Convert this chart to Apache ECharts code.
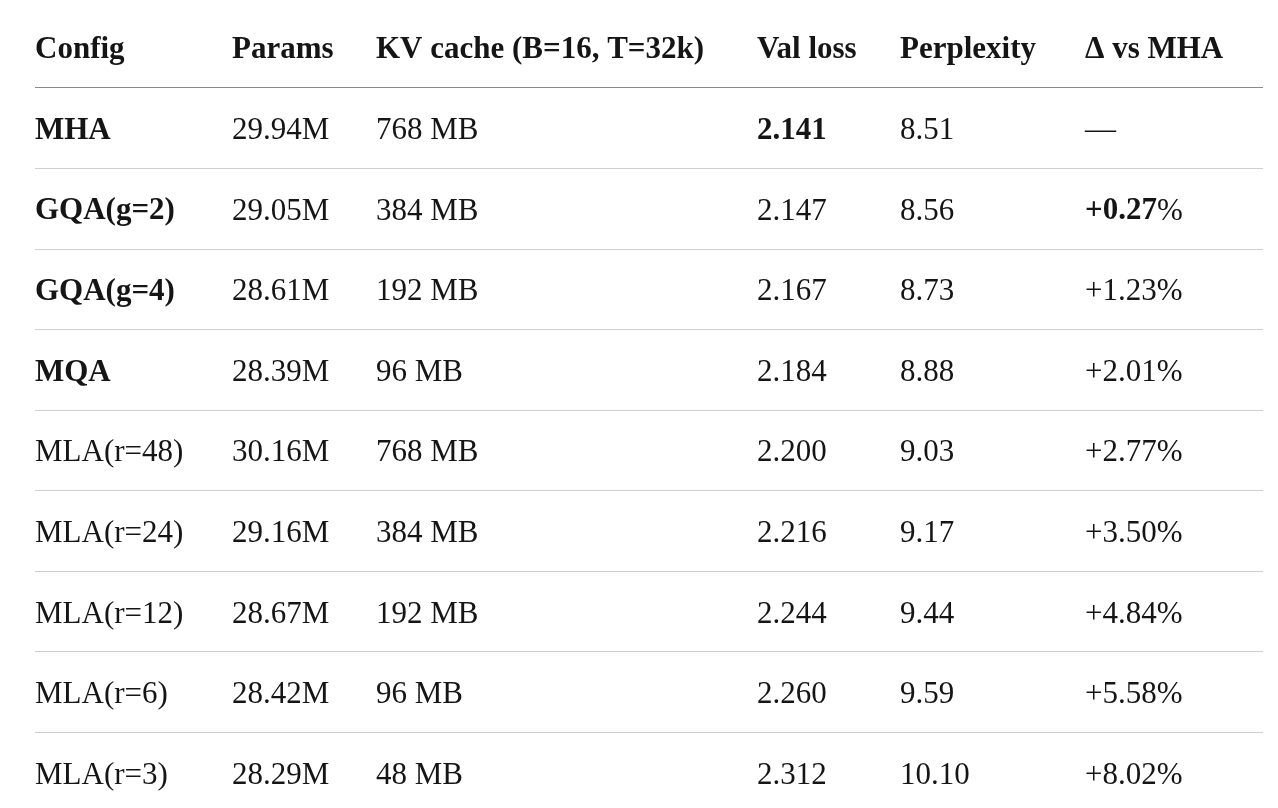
<!DOCTYPE html>
<html>
<head>
    <meta charset="utf-8">
    <title>Attention variants</title>
    <style>
        html, body { margin: 0; padding: 0; background: #fff; }
        #table { width: 1278px; height: 808px; }
    </style>
</head>
<body>
<div id="table"></div>

<script src="https://cdn.jsdelivr.net/npm/echarts@6/dist/echarts.min.js"></script>
<script>
    // table contents
    var headers = ['Config', 'Params', 'KV cache (B=16, T=32k)', 'Val loss', 'Perplexity', 'Δ vs MHA'];
    var configs = ['MHA', 'GQA(g=2)', 'GQA(g=4)', 'MQA', 'MLA(r=48)', 'MLA(r=24)', 'MLA(r=12)', 'MLA(r=6)', 'MLA(r=3)'];
    var params = ['29.94M', '29.05M', '28.61M', '28.39M', '30.16M', '29.16M', '28.67M', '28.42M', '28.29M'];
    var kvCache = ['768 MB', '384 MB', '192 MB', '96 MB', '768 MB', '384 MB', '192 MB', '96 MB', '48 MB'];
    var valLoss = [2.141, 2.147, 2.167, 2.184, 2.200, 2.216, 2.244, 2.260, 2.312];
    var perplexity = [8.51, 8.56, 8.73, 8.88, 9.03, 9.17, 9.44, 9.59, 10.10];
    var deltaVsMha = ['—', '+0.27%', '+1.23%', '+2.01%', '+2.77%', '+3.50%', '+4.84%', '+5.58%', '+8.02%'];

    // which body cells are set in bold, per column
    var boldRows = [[0, 1, 2, 3], [], [], [0], [], [1]];

    var columns = [
        configs,
        params,
        kvCache,
        valLoss.map(function (v) { return v.toFixed(3); }),
        perplexity.map(function (v) { return v.toFixed(2); }),
        deltaVsMha
    ];
    var colLeft = [35, 232, 376, 757, 900, 1085];

    var FONT = '"Liberation Serif", "DejaVu Serif", serif';
    var SIZE = 31;
    var INK = '#151515';

    // rows sit on a value axis: each row is 2 units tall, centred on an odd value,
    // rules fall on the even values. The last row is cut by the bottom edge.
    var ROW_UNITS = 2;
    var TOP = 7, H = 801;
    var Y_MAX = 19.88;
    var PX_PER_UNIT = H / Y_MAX;
    // text grids start a little lower so the glyphs sit optically centred
    var TEXT_DROP = 3;
    var nRows = configs.length + 1;

    var lineColors = ['rgba(0,0,0,0)', '#8a8a8a'];
    for (var i = 2; i <= nRows + 1; i++) lineColors.push('#cfcfcf');

    function yAxisFor(g, max, withRules) {
        return {
            gridIndex: g, type: 'value', inverse: true,
            min: 0, max: max, interval: ROW_UNITS,
            axisLine: {show: false}, axisTick: {show: false}, axisLabel: {show: false},
            splitLine: withRules
                ? {show: true, lineStyle: {color: lineColors, width: 1.2}}
                : {show: false}
        };
    }

    var grids = [{left: 35, right: 15, top: TOP, bottom: 0}];
    var xAxes = [{gridIndex: 0, type: 'value', min: 0, max: 1, show: false}];
    var yAxes = [yAxisFor(0, Y_MAX, true)];
    var series = [];

    function cellLabel(fmt, bold) {
        return {
            formatter: fmt,
            fontFamily: FONT,
            fontSize: SIZE,
            fontWeight: bold ? 'bold' : 'normal',
            color: INK,
            opacity: 1
        };
    }

    columns.forEach(function (col, c) {
        var g = c + 1;
        grids.push({left: colLeft[c], width: 180, top: TOP + TEXT_DROP, bottom: 0});
        xAxes.push({gridIndex: g, type: 'value', min: 0, max: 1, show: false});
        yAxes.push(yAxisFor(g, Y_MAX - TEXT_DROP / PX_PER_UNIT, false));

        var data = [{value: [0, ROW_UNITS / 2], label: cellLabel(headers[c], true)}];
        col.forEach(function (text, r) {
            var bold = boldRows[c].indexOf(r) >= 0;
            var fmt = text;
            if (bold && c === 5) {
                // bold number, regular percent sign
                fmt = '{b|' + text.replace('%', '') + '}{n|%}';
            }
            data.push({value: [0, (r + 1) * ROW_UNITS + ROW_UNITS / 2], label: cellLabel(fmt, bold)});
        });

        series.push({
            type: 'scatter',
            xAxisIndex: g,
            yAxisIndex: g,
            symbolSize: 0,
            silent: true,
            label: {
                show: true,
                position: 'right',
                distance: 0,
                color: INK,
                opacity: 1,
                rich: {
                    b: {fontFamily: FONT, fontSize: SIZE, color: INK, fontWeight: 'bold'},
                    n: {fontFamily: FONT, fontSize: SIZE, color: INK, fontWeight: 'normal'}
                }
            },
            labelLayout: {hideOverlap: false},
            emphasis: {disabled: true},
            data: data
        });
    });

    var chart = echarts.init(document.getElementById('table'));
    chart.setOption({
        backgroundColor: '#ffffff',
        animation: false,
        grid: grids,
        xAxis: xAxes,
        yAxis: yAxes,
        series: series
    });
</script>
</body>
</html>
